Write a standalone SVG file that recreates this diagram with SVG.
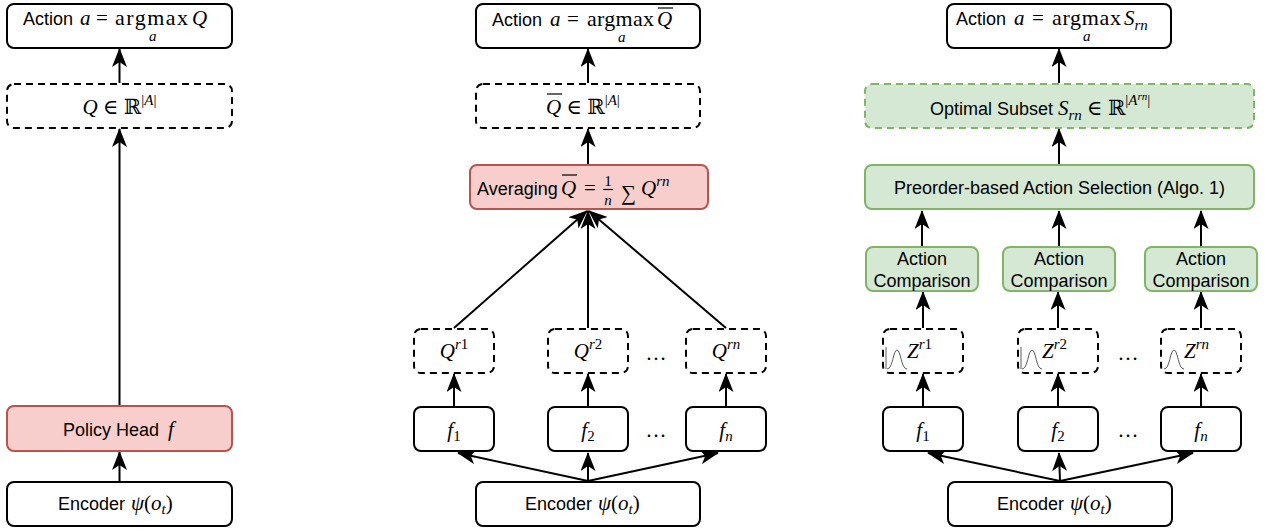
<svg xmlns="http://www.w3.org/2000/svg" width="1270" height="531" viewBox="0 0 1270 531">
  <defs>
    <marker id="arrow" markerUnits="userSpaceOnUse" markerWidth="19" markerHeight="15" viewBox="0 0 19 15" refX="18" refY="7.5" orient="auto">
      <path d="M0,0 L19,7.5 L0,15 L5,7.5 z" fill="#000"/>
    </marker>
  </defs>
  <style>
    .box { fill: #fff; stroke: #000; stroke-width: 2; }
    .dash { stroke-dasharray: 7 5; }
    .red { fill: #f8cecc; stroke: #b85450; }
    .green { fill: #d5e8d4; stroke: #82b366; }
    .t { font-family: "Liberation Sans", Arial, sans-serif; font-size: 18px; fill: #000; }
    .m { font-family: "Liberation Serif", "DejaVu Serif", serif; font-size: 21px; fill: #000; }
    .op { font-family: "Liberation Serif", "DejaVu Serif", serif; font-size: 22px; fill: #000; }
    .i { font-style: italic; }
    .s { font-size: 15px; }
    .ss { font-size: 11px; }
    .edge { stroke: #000; stroke-width: 2; fill: none; marker-end: url(#arrow); }
    .bar { stroke: #000; stroke-width: 1.2; }
    .gauss { stroke: #333; stroke-width: 0.8; fill: none; }
  </style>

  <!-- connectors -->
  <g id="connectors">
    <!-- single head -->
    <line class="edge" x1="119.5" y1="481" x2="119.5" y2="452"/>
    <line class="edge" x1="119.5" y1="405" x2="119.5" y2="129"/>
    <line class="edge" x1="119.5" y1="83" x2="119.5" y2="49"/>
    <!-- averaged ensemble -->
    <line class="edge" x1="588" y1="83" x2="588" y2="49"/>
    <line class="edge" x1="588" y1="164" x2="588" y2="129"/>
    <line class="edge" x1="454" y1="328" x2="587" y2="211"/>
    <line class="edge" x1="588" y1="328" x2="588" y2="211"/>
    <line class="edge" x1="726" y1="328" x2="589" y2="211"/>
    <line class="edge" x1="454" y1="406" x2="454" y2="374"/>
    <line class="edge" x1="588" y1="406" x2="588" y2="374"/>
    <line class="edge" x1="726" y1="406" x2="726" y2="374"/>
    <line class="edge" x1="588" y1="481" x2="458" y2="453"/>
    <line class="edge" x1="588" y1="481" x2="588" y2="453"/>
    <line class="edge" x1="588" y1="481" x2="718" y2="453"/>
    <!-- preorder-based ensemble -->
    <line class="edge" x1="1059" y1="83" x2="1059" y2="49"/>
    <line class="edge" x1="1059" y1="164" x2="1059" y2="129"/>
    <line class="edge" x1="922" y1="246" x2="922" y2="211"/>
    <line class="edge" x1="1059" y1="246" x2="1059" y2="211"/>
    <line class="edge" x1="1201" y1="246" x2="1201" y2="211"/>
    <line class="edge" x1="923" y1="328" x2="923" y2="292"/>
    <line class="edge" x1="1058" y1="328" x2="1058" y2="292"/>
    <line class="edge" x1="1201" y1="328" x2="1201" y2="292"/>
    <line class="edge" x1="923" y1="406" x2="923" y2="374"/>
    <line class="edge" x1="1058" y1="406" x2="1058" y2="374"/>
    <line class="edge" x1="1201" y1="406" x2="1201" y2="374"/>
    <line class="edge" x1="1060" y1="481" x2="928" y2="453"/>
    <line class="edge" x1="1060" y1="481" x2="1059" y2="453"/>
    <line class="edge" x1="1060" y1="481" x2="1193" y2="453"/>
  </g>

  <!-- ===== single policy head ===== -->
  <g id="action1">
    <rect class="box" x="7" y="4" width="225" height="44" rx="7"/>
    <text class="t" x="23" y="25">Action</text>
    <text class="m i" x="80" y="25">a</text>
    <text class="m" x="96" y="25">=</text>
    <text class="op" x="115" y="25" textLength="73" lengthAdjust="spacing">argmax</text>
    <text class="m i" x="192" y="25">Q</text>
    <text class="m i s" x="149" y="41">a</text>
  </g>
  <g id="q1">
    <rect class="box dash" x="7" y="84" width="225" height="44" rx="7"/>
    <text class="m" x="119.5" y="114" text-anchor="middle"><tspan class="i">Q</tspan> ∈ ℝ<tspan class="s" dy="-9">|<tspan class="i">A</tspan>|</tspan></text>
  </g>
  <g id="head1">
    <rect class="box red" x="7" y="406" width="225" height="45" rx="7"/>
    <text class="t" x="111" y="436" text-anchor="middle">Policy Head</text>
    <text class="m i" x="168" y="436">f</text>
  </g>
  <g id="encoder1">
    <rect class="box" x="7" y="482" width="225" height="44" rx="7"/>
    <text class="t" x="58" y="510">Encoder</text>
    <text class="m" x="131" y="510"><tspan class="i">ψ</tspan>(<tspan class="i">o</tspan><tspan class="s i" dy="4">t</tspan><tspan dy="-4">)</tspan></text>
  </g>

  <!-- ===== averaged ensemble ===== -->
  <g id="action2">
    <rect class="box" x="476" y="4" width="224" height="44" rx="7"/>
    <text class="t" x="492" y="26">Action</text>
    <text class="m i" x="550" y="26">a</text>
    <text class="m" x="567" y="26">=</text>
    <text class="op" x="587" y="26" textLength="67" lengthAdjust="spacing">argmax</text>
    <text class="m i" x="657" y="26">Q</text>
    <line class="bar" x1="658" y1="8" x2="673" y2="8"/>
    <text class="m i s" x="618" y="42">a</text>
  </g>
  <g id="qbar">
    <rect class="box dash" x="476" y="84" width="224" height="44" rx="7"/>
    <text class="m" x="546" y="114"><tspan class="i">Q</tspan> ∈ ℝ<tspan class="s" dy="-9">|<tspan class="i">A</tspan>|</tspan></text>
    <line class="bar" x1="547" y1="94" x2="562" y2="94"/>
  </g>
  <g id="averaging">
    <rect class="box red" x="470" y="165" width="238" height="44" rx="7"/>
    <text class="t" x="477" y="195">Averaging</text>
    <text class="m i" x="561" y="195">Q</text>
    <line class="bar" x1="562" y1="175" x2="577" y2="175"/>
    <text class="m" x="584" y="195">=</text>
    <text class="m s" x="608" y="186" text-anchor="middle">1</text>
    <line class="bar" x1="603" y1="189.5" x2="613" y2="189.5"/>
    <text class="m s i" x="608" y="205" text-anchor="middle">n</text>
    <text class="m" x="621" y="200">∑</text>
    <text class="m i" x="641" y="195">Q<tspan class="s" dy="-9">rn</tspan></text>
  </g>
  <g id="qr1">
    <rect class="box dash" x="414" y="329" width="80" height="44" rx="7"/>
    <text class="m" x="454" y="358" text-anchor="middle"><tspan class="i">Q</tspan><tspan class="s" dy="-9"><tspan class="i">r</tspan>1</tspan></text>
  </g>
  <g id="qr2">
    <rect class="box dash" x="548" y="329" width="80" height="44" rx="7"/>
    <text class="m" x="588" y="358" text-anchor="middle"><tspan class="i">Q</tspan><tspan class="s" dy="-9"><tspan class="i">r</tspan>2</tspan></text>
  </g>
  <text class="m" x="656" y="360" text-anchor="middle">…</text>
  <g id="qrn">
    <rect class="box dash" x="686" y="329" width="80" height="44" rx="7"/>
    <text class="m i" x="726" y="358" text-anchor="middle">Q<tspan class="s" dy="-9">rn</tspan></text>
  </g>
  <g id="f1a">
    <rect class="box" x="414" y="407" width="80" height="44" rx="7"/>
    <text class="m i" x="454" y="437" text-anchor="middle">f<tspan class="s" font-style="normal" dy="4">1</tspan></text>
  </g>
  <g id="f2a">
    <rect class="box" x="548" y="407" width="80" height="44" rx="7"/>
    <text class="m i" x="588" y="437" text-anchor="middle">f<tspan class="s" font-style="normal" dy="4">2</tspan></text>
  </g>
  <text class="m" x="656" y="437" text-anchor="middle">…</text>
  <g id="fna">
    <rect class="box" x="686" y="407" width="80" height="44" rx="7"/>
    <text class="m i" x="726" y="437" text-anchor="middle">f<tspan class="s" dy="4">n</tspan></text>
  </g>
  <g id="encoder2">
    <rect class="box" x="476" y="482" width="224" height="44" rx="7"/>
    <text class="t" x="525" y="510">Encoder</text>
    <text class="m" x="598" y="510"><tspan class="i">ψ</tspan>(<tspan class="i">o</tspan><tspan class="s i" dy="4">t</tspan><tspan dy="-4">)</tspan></text>
  </g>

  <!-- ===== preorder-based ensemble ===== -->
  <g id="action3">
    <rect class="box" x="947" y="4" width="224" height="44" rx="7"/>
    <text class="t" x="956" y="25">Action</text>
    <text class="m i" x="1014" y="25">a</text>
    <text class="m" x="1032" y="25">=</text>
    <text class="op" x="1052" y="25" textLength="69" lengthAdjust="spacing">argmax</text>
    <text class="m i" x="1124" y="25">S<tspan class="s" dy="5">rn</tspan></text>
    <text class="m i s" x="1083" y="41">a</text>
  </g>
  <g id="subset">
    <rect class="box dash green" x="865" y="84" width="389" height="44" rx="7"/>
    <text class="t" x="930" y="115">Optimal Subset</text>
    <text class="m" x="1058" y="115"><tspan class="i">S</tspan><tspan class="s i" dy="5">rn</tspan><tspan dy="-5"> ∈ ℝ</tspan><tspan class="s" dy="-10">|<tspan class="i">A</tspan><tspan class="ss i" dy="-5">rn</tspan><tspan dy="5">|</tspan></tspan></text>
  </g>
  <g id="preorder">
    <rect class="box green" x="865" y="165" width="389" height="44" rx="7"/>
    <text class="t" x="1059.5" y="194" text-anchor="middle">Preorder-based Action Selection (Algo. 1)</text>
  </g>
  <g id="cmp1">
    <rect class="box green" x="866" y="247" width="112" height="44" rx="7"/>
    <text class="t" x="922" y="265" text-anchor="middle">Action</text>
    <text class="t" x="922" y="287" text-anchor="middle">Comparison</text>
  </g>
  <g id="cmp2">
    <rect class="box green" x="1003" y="247" width="112" height="44" rx="7"/>
    <text class="t" x="1059" y="265" text-anchor="middle">Action</text>
    <text class="t" x="1059" y="287" text-anchor="middle">Comparison</text>
  </g>
  <g id="cmp3">
    <rect class="box green" x="1145" y="247" width="112" height="44" rx="7"/>
    <text class="t" x="1201" y="265" text-anchor="middle">Action</text>
    <text class="t" x="1201" y="287" text-anchor="middle">Comparison</text>
  </g>
  <g id="z1">
    <rect class="box dash" x="883" y="329" width="80" height="44" rx="7"/>
    <line class="gauss" x1="886" y1="347" x2="886" y2="369"/>
    <path class="gauss" d="M887,369 C893,369 893,350 897,350 C901,350 901,369 907,369"/>
    <text class="m" x="907" y="358"><tspan class="i">Z</tspan><tspan class="s" dy="-9"><tspan class="i">r</tspan>1</tspan></text>
  </g>
  <g id="z2">
    <rect class="box dash" x="1018" y="329" width="80" height="44" rx="7"/>
    <line class="gauss" x1="1021" y1="347" x2="1021" y2="369"/>
    <path class="gauss" d="M1022,369 C1028,369 1028,350 1032,350 C1036,350 1036,369 1042,369"/>
    <text class="m" x="1042" y="358"><tspan class="i">Z</tspan><tspan class="s" dy="-9"><tspan class="i">r</tspan>2</tspan></text>
  </g>
  <text class="m" x="1128" y="360" text-anchor="middle">…</text>
  <g id="zn">
    <rect class="box dash" x="1161" y="329" width="80" height="44" rx="7"/>
    <path class="gauss" d="M1164,369 C1170,369 1170,350 1174,350 C1178,350 1178,369 1184,369"/>
    <text class="m i" x="1184" y="358">Z<tspan class="s" dy="-9">rn</tspan></text>
  </g>
  <g id="f1b">
    <rect class="box" x="883" y="407" width="80" height="44" rx="7"/>
    <text class="m i" x="923" y="437" text-anchor="middle">f<tspan class="s" font-style="normal" dy="4">1</tspan></text>
  </g>
  <g id="f2b">
    <rect class="box" x="1018" y="407" width="80" height="44" rx="7"/>
    <text class="m i" x="1058" y="437" text-anchor="middle">f<tspan class="s" font-style="normal" dy="4">2</tspan></text>
  </g>
  <text class="m" x="1128" y="437" text-anchor="middle">…</text>
  <g id="fnb">
    <rect class="box" x="1161" y="407" width="80" height="44" rx="7"/>
    <text class="m i" x="1201" y="437" text-anchor="middle">f<tspan class="s" dy="4">n</tspan></text>
  </g>
  <g id="encoder3">
    <rect class="box" x="948" y="482" width="224" height="44" rx="7"/>
    <text class="t" x="997" y="510">Encoder</text>
    <text class="m" x="1070" y="510"><tspan class="i">ψ</tspan>(<tspan class="i">o</tspan><tspan class="s i" dy="4">t</tspan><tspan dy="-4">)</tspan></text>
  </g>
</svg>
